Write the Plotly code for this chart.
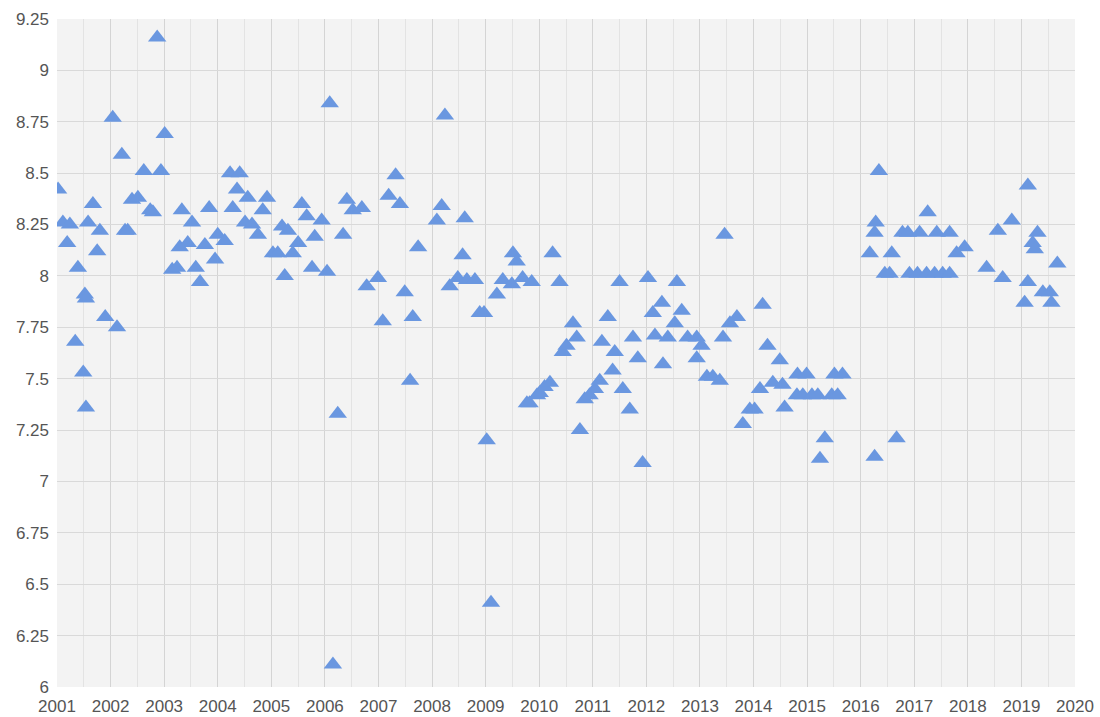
import plotly.graph_objects as go

years = [
    2001.02, 2001.11, 2001.19, 2001.24, 2001.34, 2001.39, 2001.52, 2001.54, 2001.49, 2001.54,
    2001.58, 2001.67, 2001.75, 2001.80, 2001.90, 2002.04, 2002.12, 2002.21, 2002.27, 2002.32,
    2002.40, 2002.51, 2002.62, 2002.74, 2002.79, 2002.87, 2002.94, 2003.01, 2003.15, 2003.24,
    2003.29, 2003.33, 2003.44, 2003.52, 2003.59, 2003.67, 2003.76, 2003.84, 2003.95, 2004.00,
    2004.13, 2004.23, 2004.28, 2004.36, 2004.41, 2004.51, 2004.56, 2004.64, 2004.75, 2004.84,
    2004.92, 2005.03, 2005.12, 2005.20, 2005.25, 2005.31, 2005.40, 2005.50, 2005.57, 2005.66,
    2005.76, 2005.81, 2005.94, 2006.04, 2006.09, 2006.15, 2006.24, 2006.34, 2006.41, 2006.52,
    2006.69, 2006.78, 2006.99, 2007.08, 2007.19, 2007.32, 2007.40, 2007.49, 2007.59, 2007.64,
    2007.74, 2008.09, 2008.18, 2008.24, 2008.33, 2008.48, 2008.57, 2008.61, 2008.65, 2008.80,
    2008.89, 2008.97, 2009.02, 2009.10, 2009.21, 2009.32, 2009.49, 2009.51, 2009.58, 2009.69,
    2009.77, 2009.82, 2009.86, 2009.96, 2010.01, 2010.10, 2010.20, 2010.25, 2010.38, 2010.44,
    2010.51, 2010.63, 2010.70, 2010.76, 2010.85, 2010.94, 2011.04, 2011.13, 2011.17, 2011.28,
    2011.37, 2011.41, 2011.50, 2011.56, 2011.69, 2011.75, 2011.84, 2011.93, 2012.03, 2012.12,
    2012.16, 2012.29, 2012.31, 2012.40, 2012.53, 2012.57, 2012.66, 2012.77, 2012.94, 2012.94,
    2013.03, 2013.13, 2013.24, 2013.37, 2013.43, 2013.46, 2013.56, 2013.69, 2013.80, 2013.93,
    2014.02, 2014.12, 2014.17, 2014.26, 2014.36, 2014.49, 2014.54, 2014.58, 2014.81, 2014.82,
    2014.92, 2014.99, 2015.09, 2015.20, 2015.24, 2015.33, 2015.46, 2015.51, 2015.57, 2015.66,
    2016.17, 2016.26, 2016.26, 2016.28, 2016.34, 2016.45, 2016.54, 2016.58, 2016.67, 2016.78,
    2016.88, 2016.91, 2017.06, 2017.10, 2017.23, 2017.25, 2017.38, 2017.42, 2017.53, 2017.66,
    2017.66, 2017.79, 2017.94, 2018.35, 2018.56, 2018.65, 2018.82, 2019.06, 2019.12, 2019.12,
    2019.21, 2019.25, 2019.30, 2019.40, 2019.53, 2019.56, 2019.67,
]

values = [
    8.42, 8.26, 8.16, 8.25, 7.68, 8.04, 7.91, 7.89, 7.53, 7.36,
    8.26, 8.35, 8.12, 8.22, 7.80, 8.77, 7.75, 8.59, 8.22, 8.22,
    8.37, 8.38, 8.51, 8.32, 8.31, 9.16, 8.51, 8.69, 8.03, 8.04,
    8.14, 8.32, 8.16, 8.26, 8.04, 7.97, 8.15, 8.33, 8.08, 8.20,
    8.17, 8.50, 8.33, 8.42, 8.50, 8.26, 8.38, 8.25, 8.20, 8.32,
    8.38, 8.11, 8.11, 8.24, 8.00, 8.22, 8.11, 8.16, 8.35, 8.29,
    8.04, 8.19, 8.27, 8.02, 8.84, 6.11, 7.33, 8.20, 8.37, 8.32,
    8.33, 7.95, 7.99, 7.78, 8.39, 8.49, 8.35, 7.92, 7.49, 7.80,
    8.14, 8.27, 8.34, 8.78, 7.95, 7.99, 8.10, 8.28, 7.98, 7.98,
    7.82, 7.82, 7.20, 6.41, 7.91, 7.98, 7.96, 8.11, 8.07, 7.99,
    7.38, 7.38, 7.97, 7.42, 7.43, 7.46, 7.48, 8.11, 7.97, 7.63,
    7.66, 7.77, 7.70, 7.25, 7.40, 7.42, 7.45, 7.49, 7.68, 7.80,
    7.54, 7.63, 7.97, 7.45, 7.35, 7.70, 7.60, 7.09, 7.99, 7.82,
    7.71, 7.87, 7.57, 7.70, 7.77, 7.97, 7.83, 7.70, 7.70, 7.60,
    7.66, 7.51, 7.51, 7.49, 7.70, 8.20, 7.77, 7.80, 7.28, 7.35,
    7.35, 7.45, 7.86, 7.66, 7.48, 7.59, 7.47, 7.36, 7.42, 7.52,
    7.42, 7.52, 7.42, 7.42, 7.11, 7.21, 7.42, 7.52, 7.42, 7.52,
    8.11, 7.12, 8.21, 8.26, 8.51, 8.01, 8.01, 8.11, 7.21, 8.21,
    8.21, 8.01, 8.01, 8.21, 8.01, 8.31, 8.01, 8.21, 8.01, 8.21,
    8.01, 8.11, 8.14, 8.04, 8.22, 7.99, 8.27, 7.87, 8.44, 7.97,
    8.16, 8.13, 8.21, 7.92, 7.92, 7.87, 8.06,
]

x_ticks = list(range(2001, 2021))
y_ticks = [6 + 0.25 * i for i in range(14)]

fig = go.Figure()
fig.add_trace(go.Scatter(
    x=years, y=values, mode="markers",
    marker=dict(symbol="triangle-up", size=16, color="#6a97e0", line=dict(width=0)),
    hoverinfo="x+y", showlegend=False,
))

fig.update_layout(
    width=1100, height=717,
    margin=dict(l=57, r=25, t=19, b=30),
    paper_bgcolor="white",
    plot_bgcolor="#f3f3f3",
    font=dict(family="Liberation Sans, Arial, sans-serif", size=17, color="#555555"),
    xaxis=dict(
        range=[2001, 2020], tickvals=x_ticks, ticktext=[str(v) for v in x_ticks],
        showgrid=True, gridcolor="#d4d4d4", gridwidth=1, zeroline=False,
        minor=dict(dtick=0.5, tick0=2001, showgrid=True, gridcolor="#e3e3e3", gridwidth=1),
        showline=False, ticks="", ticklabelstandoff=7, automargin=False,
    ),
    yaxis=dict(
        range=[6, 9.25], tickvals=y_ticks, ticktext=[f"{v:g}" for v in y_ticks],
        showgrid=True, gridcolor="#d9d9d9", gridwidth=1, zeroline=False,
        showline=False, ticks="", ticklabelstandoff=7, automargin=False,
    ),
)

fig.write_html("out.html", config={"displayModeBar": False},
               post_script="document.body.style.margin='0';")
